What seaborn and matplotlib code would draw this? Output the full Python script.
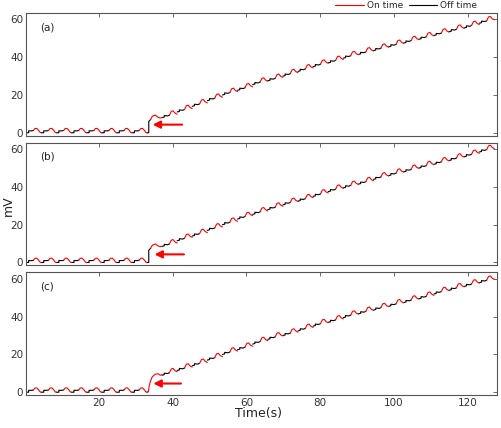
import numpy as np
import pandas as pd
import matplotlib
matplotlib.use('Agg')
import matplotlib.pyplot as plt
import seaborn as sns
from matplotlib.lines import Line2D

# timing of the on/off cycles
period = 4.1
t_start = 0.2
jump_cycle = 8
panel_names = ['(a)', '(b)', '(c)']

# shape of one cycle before the jump (offset in s, offset in mV)
flat_off_t = [0.0, 0.7, 0.7, 1.6, 2.0]
flat_off_v = [0.0, 0.0, 1.0, 1.0, 1.2]
flat_on_t = [2.0, 2.4, 2.9, 3.4, 3.8, 4.1]
flat_on_v = [1.2, 2.2, 2.3, 1.3, 0.2, 0.0]

# shape of one cycle after the jump
rise_off_t = [0.0, 0.6, 0.6, 1.5, 2.0]
rise_off_v = [0.0, 0.3, 1.1, 0.9, 1.3]
rise_on_t = [2.0, 2.5, 3.0, 3.5, 4.1]
rise_on_v = [1.3, 3.3, 3.6, 2.4, 1.8]

# the cycle holding the jump, one per panel
jump_off_t = [[0.0, 0.5, 0.5, 1.0], [0.0, 0.5, 0.5, 1.0], [0.0, 0.4]]
jump_off_v = [[0.0, 0.0, 6.0, 7.0], [0.0, 0.0, 6.5, 7.5], [0.0, 0.3]]
jump_on_t = [[1.0, 1.5, 2.3, 3.0, 3.6, 4.1],
             [1.0, 1.5, 2.3, 3.0, 3.6, 4.1],
             [0.4, 0.6, 0.9, 1.4, 2.2, 3.0, 3.6, 4.1]]
jump_on_v = [[7.0, 8.8, 9.3, 8.2, 7.8, 8.0],
             [7.5, 9.2, 9.8, 8.8, 8.4, 8.6],
             [0.3, 3.0, 5.5, 8.0, 9.5, 9.8, 9.0, 9.3]]

# base level of every cycle (mV), per panel
base_a = [0, 0, 0, 0, 0, 0, 0, 0, 0,
          8, 11, 14, 17, 20, 22.5, 25.5, 27.5, 30, 32.5, 35, 37, 39.5, 41.5, 43.5,
          45.5, 47.5, 49.5, 51.5, 53.5, 55.5, 58]
base_b = [0, 0, 0, 0, 0, 0, 0, 0, 0,
          8.5, 11.5, 14, 17, 20, 23, 25.5, 28, 30.5, 32.5, 35, 37.5, 39.5, 41.5, 44,
          46, 48, 50, 52, 54, 56, 58.5]
base_c = [0, 0, 0, 0, 0, 0, 0, 0, 0,
          9, 11.5, 14, 17, 20, 22.5, 25.5, 28, 30, 32.5, 35, 37, 39.5, 41.5, 43.5,
          45.5, 47.5, 49.5, 52, 54, 56, 58]
bases = [base_a, base_b, base_c]

rows = []
for p, base in enumerate(bases):
    for k, b in enumerate(base):
        t0 = t_start + k * period
        if k < jump_cycle:
            parts = [('Off time', flat_off_t, flat_off_v), ('On time', flat_on_t, flat_on_v)]
        elif k == jump_cycle:
            parts = [('Off time', jump_off_t[p], jump_off_v[p]), ('On time', jump_on_t[p], jump_on_v[p])]
        else:
            parts = [('Off time', rise_off_t, rise_off_v), ('On time', rise_on_t, rise_on_v)]
        for phase, ts, vs in parts:
            seg = f'{p}-{k}-{phase}'
            for dt, dv in zip(ts, vs):
                rows.append({'panel': p, 'seg': seg, 'phase': phase,
                             't': t0 + dt, 'v': b + dv})
df = pd.DataFrame(rows)

# arrows: (tail x, tip x, y)
arrow_tail = [43.3, 43.8, 43.0]
arrow_tip = [33.8, 34.3, 34.0]
arrow_y = [4.3, 4.3, 4.6]

sns.set_style('white')
fig, axes = plt.subplots(3, 1, figsize=(5.01, 4.28), dpi=100, sharex=True)
fig.subplots_adjust(left=0.052, right=0.992, top=0.97, bottom=0.077, hspace=0.057)

palette = {'On time': 'red', 'Off time': 'black'}
for p, ax in enumerate(axes):
    sub = df[df['panel'] == p]
    sns.lineplot(data=sub, x='t', y='v', hue='phase', units='seg', estimator=None,
                 sort=False, palette=palette, lw=0.8, legend=False, ax=ax)
    ax.annotate('', xy=(arrow_tip[p], arrow_y[p]), xytext=(arrow_tail[p], arrow_y[p]),
                arrowprops=dict(arrowstyle='-|>', color='red', lw=1.5, mutation_scale=11))
    ax.text(0.03, 0.86, panel_names[p], transform=ax.transAxes, fontsize=7.5, color='#222222')
    ax.set_xlim(0.2, 128)
    ax.set_ylim(-1.5, 63.5)
    ax.set_yticks([0, 20, 40, 60])
    ax.set_xticks([20, 40, 60, 80, 100, 120])
    ax.set_xlabel('')
    ax.set_ylabel('')
    ax.tick_params(direction='in', top=True, right=True, length=3, width=0.6,
                   labelsize=7.5, labelcolor='#333333', color='#555555', pad=2)
    for s in ax.spines.values():
        s.set_color('#555555')
        s.set_linewidth(0.8)

fig.text(0.016, 0.52, 'mV', rotation=90, ha='center', va='center', fontsize=9, color='#222222')
fig.text(0.515, 0.035, 'Time(s)', ha='center', va='center', fontsize=9, color='#222222')

handles = [Line2D([], [], color='red', lw=0.8), Line2D([], [], color='black', lw=0.8)]
fig.legend(handles, ['On time', 'Off time'], loc='upper right', bbox_to_anchor=(0.965, 1.012),
           ncol=2, frameon=False, fontsize=6.5, handlelength=3.2, columnspacing=0.6,
           handletextpad=0.3, borderpad=0.2)

fig.savefig('out.png', dpi=100)
